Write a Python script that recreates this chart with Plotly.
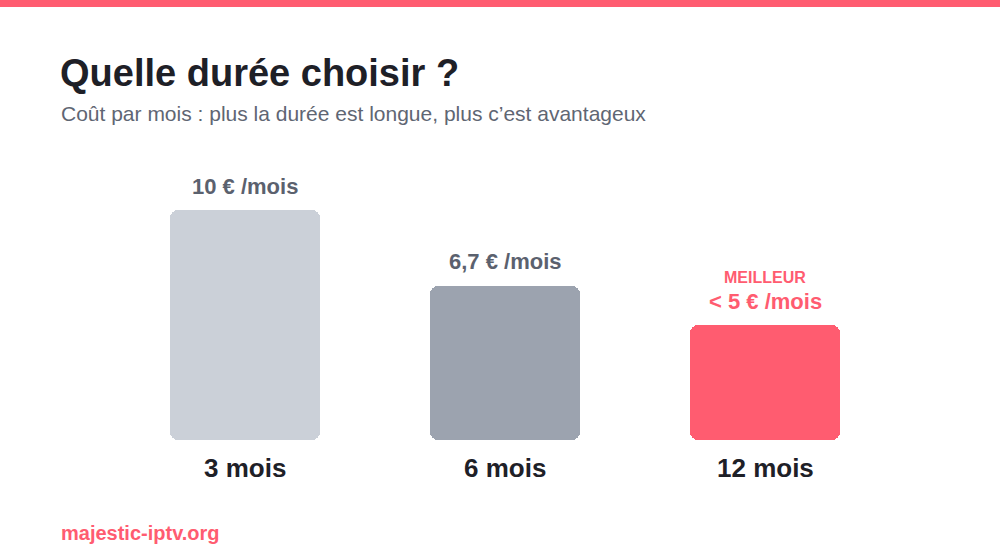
import plotly.graph_objects as go

# donnees du graphique
durees = ["3 mois", "6 mois", "12 mois"]
prix_mois = [10, 6.7, 5]
etiquettes = ["10 € /mois", "6,7 € /mois", "< 5 € /mois"]
badge = ["", "", "MEILLEUR"]

ROUGE = "#FF5C70"
couleurs_barres = ["#CBD0D8", "#9CA3AF", ROUGE]
couleurs_texte = ["#5B616E", "#5B616E", ROUGE]
FONT = "Liberation Sans, Arial, Helvetica, sans-serif"
W, H = 1000, 560

fig = go.Figure()
# each bar = 2 overlapping halves so all 4 corners get rounded
fig.add_trace(go.Bar(x=durees, y=[v * 0.6 for v in prix_mois], base=[v * 0.4 for v in prix_mois],
                     marker=dict(color=couleurs_barres, line=dict(width=0)), width=0.577, hoverinfo="skip"))
fig.add_trace(go.Bar(x=durees, y=[-v * 0.6 for v in prix_mois], base=[v * 0.6 for v in prix_mois],
                     marker=dict(color=couleurs_barres, line=dict(width=0)), width=0.577, hoverinfo="skip"))

for d, v, t, b, c in zip(durees, prix_mois, etiquettes, badge, couleurs_texte):
    fig.add_annotation(x=d, y=v, xref="x", yref="y", text="<b>%s</b>" % t, showarrow=False,
                       yshift=24, yanchor="middle", font=dict(family=FONT, size=22, color=c))
    if b:
        fig.add_annotation(x=d, y=v, xref="x", yref="y", text="<b>%s</b>" % b, showarrow=False,
                           yshift=48, yanchor="middle", font=dict(family=FONT, size=16, color=c))
    fig.add_annotation(x=d, y=0, xref="x", yref="y", text="<b>%s</b>" % d, showarrow=False,
                       yshift=-28, yanchor="middle", font=dict(family=FONT, size=26, color="#1E2027"))

# titres et pied de page (positions en pixels -> paper)
def px(x):
    return x / W

def py(y):
    return 1 - y / H

fig.add_annotation(x=px(58), y=py(73), xref="paper", yref="paper", xanchor="left", yanchor="middle",
                   text="<b>Quelle durée choisir ?</b>", showarrow=False,
                   font=dict(family=FONT, size=38, color="#1E2027"))
fig.add_annotation(x=px(59), y=py(114), xref="paper", yref="paper", xanchor="left", yanchor="middle",
                   text="Coût par mois : plus la durée est longue, plus c’est avantageux", showarrow=False,
                   font=dict(family=FONT, size=21, color="#5F6673"))
fig.add_annotation(x=px(59), y=py(533), xref="paper", yref="paper", xanchor="left", yanchor="middle",
                   text="<b>majestic-iptv.org</b>", showarrow=False,
                   font=dict(family=FONT, size=20, color=ROUGE))

# bandeau rouge en haut
fig.add_shape(type="rect", xref="paper", yref="paper", x0=0, x1=1, y0=py(7), y1=1,
              fillcolor=ROUGE, line=dict(width=0), layer="below")

fig.update_layout(
    width=W, height=H,
    margin=dict(l=0, r=0, t=0, b=0),
    paper_bgcolor="white", plot_bgcolor="white",
    barmode="overlay", barcornerradius=8,
    showlegend=False, bargap=0,
    xaxis=dict(domain=[px(115), px(895)], showticklabels=False, showgrid=False, zeroline=False,
               showline=False, ticks=""),
    yaxis=dict(domain=[py(440), py(175)], range=[0, 265 / 23], visible=False, fixedrange=True),
)

# body margin to 0 so the chart sits at the top-left corner of the page, no modebar
fig.write_html("out.html", config={"displayModeBar": False},
               post_script="document.body.style.margin='0';document.body.style.overflow='hidden';")
